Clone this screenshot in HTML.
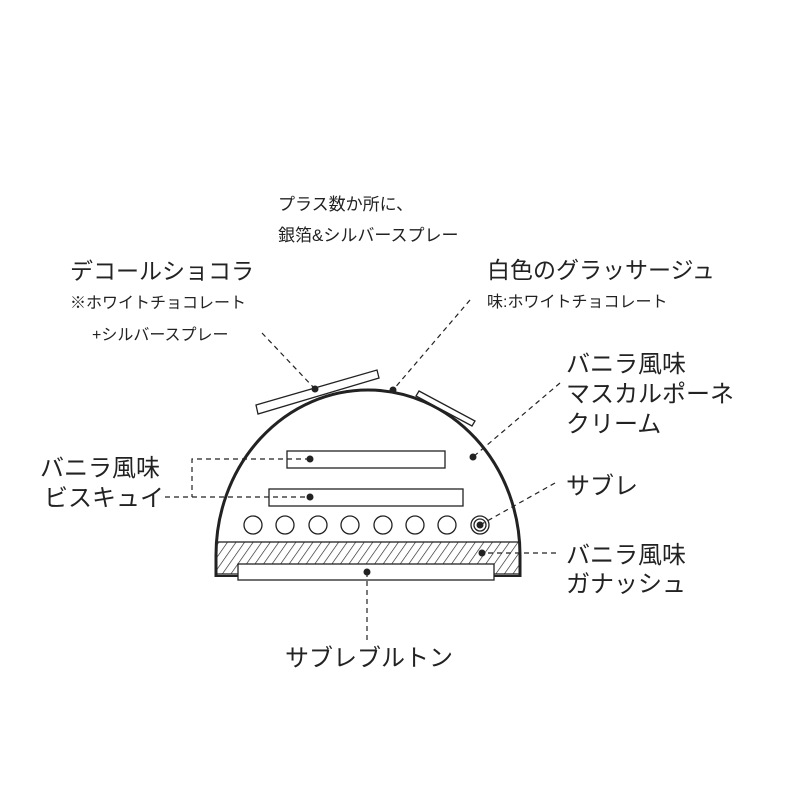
<!DOCTYPE html>
<html><head><meta charset="utf-8"><style>
html,body{margin:0;padding:0;background:#fff;}
svg{display:block;}
text{font-family:"Liberation Sans","Noto Sans CJK JP",sans-serif;fill:#222;}
</style></head><body>
<svg width="800" height="800" viewBox="0 0 800 800" xmlns="http://www.w3.org/2000/svg">
<defs>
<pattern id="h" width="7" height="7" patternUnits="userSpaceOnUse" patternTransform="rotate(35)">
<line x1="0" y1="0" x2="0" y2="7" stroke="#222" stroke-width="1.3"/>
</pattern>
</defs>
<rect x="216" y="542" width="304" height="32" fill="url(#h)" stroke="#222" stroke-width="1.3"/>
<path d="M216 577 L216 555 A152 165 0 0 1 520 555 L520 577" fill="none" stroke="#222" stroke-width="3"/>
<line x1="216" y1="576" x2="238" y2="576" stroke="#222" stroke-width="2"/>
<line x1="494" y1="576" x2="520" y2="576" stroke="#222" stroke-width="2"/>
<rect x="238" y="564" width="256" height="16" fill="#fff" stroke="#222" stroke-width="1.3"/>
<rect x="287" y="451" width="158" height="17" fill="#fff" stroke="#222" stroke-width="1.3"/>
<rect x="269" y="489" width="194" height="17" fill="#fff" stroke="#222" stroke-width="1.3"/>
<g fill="#fff" stroke="#222" stroke-width="1.3">
<circle cx="253" cy="525" r="9"/><circle cx="285" cy="525" r="9"/><circle cx="318" cy="525" r="9"/><circle cx="350" cy="525" r="9"/>
<circle cx="383" cy="525" r="9"/><circle cx="415" cy="525" r="9"/><circle cx="447" cy="525" r="9"/><circle cx="480" cy="525" r="9"/>
<circle cx="480" cy="525" r="6"/>
</g>
<polygon points="256,405 377,370 379,378 258,414" fill="#fff" stroke="#222" stroke-width="1.3"/>
<polygon points="419,391 475,421 472,426 416,396" fill="#fff" stroke="#222" stroke-width="1.3"/>
<g stroke="#222" stroke-width="1.2" stroke-dasharray="5,4" fill="none">
<path d="M310 459 H192 V497"/>
<path d="M165 497 H310"/>
<path d="M262 333 L315 389"/>
<path d="M470 300 L393 390"/>
<path d="M560 383 L473 457"/>
<path d="M555 483 L480 525"/>
<path d="M556 553 H482"/>
<path d="M367 572 V642"/>
</g>
<g fill="#222">
<circle cx="315" cy="389" r="3.5"/><circle cx="393" cy="390" r="3.5"/><circle cx="473" cy="457" r="3.5"/>
<circle cx="310" cy="459" r="3.5"/><circle cx="310" cy="497" r="3.5"/><circle cx="480" cy="525" r="3.5"/>
<circle cx="482" cy="553" r="3.5"/><circle cx="367" cy="572" r="3.5"/>
</g>
<text x="278" y="210" font-size="17">プラス数か所に、</text>
<text x="278" y="241" font-size="17">銀箔&amp;シルバースプレー</text>
<text x="70" y="279" font-size="23">デコールショコラ</text>
<text x="70" y="308" font-size="16">※ホワイトチョコレート</text>
<text x="92" y="340" font-size="16">+シルバースプレー</text>
<text x="487" y="278" font-size="23">白色のグラッサージュ</text>
<text x="487" y="307" font-size="16">味:ホワイトチョコレート</text>
<text x="566" y="372" font-size="24">バニラ風味</text>
<text x="566" y="402" font-size="24">マスカルポーネ</text>
<text x="566" y="432" font-size="24">クリーム</text>
<text x="566" y="494" font-size="24">サブレ</text>
<text x="566" y="563" font-size="24">バニラ風味</text>
<text x="566" y="592" font-size="24">ガナッシュ</text>
<text x="40" y="476" font-size="24">バニラ風味</text>
<text x="44" y="506" font-size="24">ビスキュイ</text>
<text x="285" y="666" font-size="24">サブレブルトン</text>
</svg>
</body></html>
